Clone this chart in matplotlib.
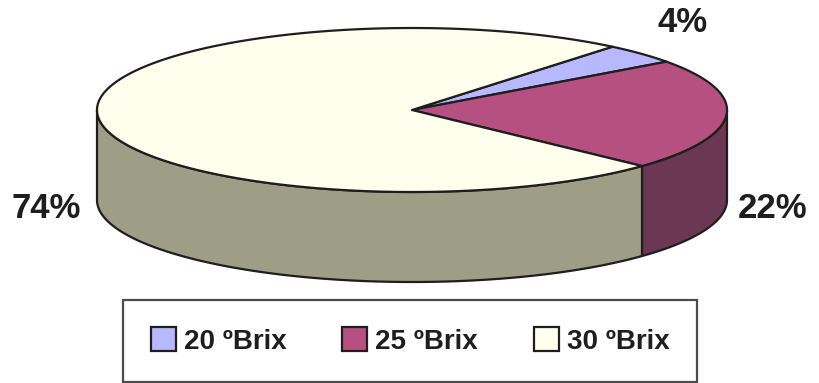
import matplotlib
matplotlib.use("Agg")
import matplotlib.pyplot as plt
import numpy as np
from matplotlib.patches import Polygon, Patch

labels = ["20 ºBrix", "25 ºBrix", "30 ºBrix"]
values = [4, 22, 74]
pct_labels = ["4%", "22%", "74%"]
top_colors = ["#b8b8ff", "#b55080", "#ffffee"]
side_colors = ["#6e6e9e", "#6b3752", "#9e9e86"]

# pie geometry in pixel coordinates (y grows downward)
cx, cy = 412, 110
rx, ry = 315, 82
depth = 90
start_deg = 50.5

plt.rcParams["font.family"] = ["Liberation Sans", "DejaVu Sans"]
fig = plt.figure(figsize=(8.19, 3.83), dpi=100)
ax = fig.add_axes([0, 0, 1, 1])
ax.set_xlim(0, 819)
ax.set_ylim(383, 0)
ax.axis("off")


def rim(t0, t1, n=200):
    t = np.radians(np.linspace(t0, t1, n))
    return cx + rx * np.cos(t), cy - ry * np.sin(t)


edge = dict(edgecolor="#1e1e1e", linewidth=1.6, joinstyle="round")

# slice angles, clockwise from start
bounds = [start_deg]
for v in values:
    bounds.append(bounds[-1] - 360 * v / sum(values))

# front side walls (only the part with sin(t) < 0 is visible)
for i, v in enumerate(values):
    a0, a1 = bounds[i], bounds[i + 1]
    lo, hi = min(a0, a1), max(a0, a1)
    for shift in (0, 360, -360):
        s0, s1 = max(lo + shift, -180), min(hi + shift, 0)
        if s1 > s0:
            x, y = rim(s1, s0)
            xs = np.concatenate([x, x[::-1]])
            ys = np.concatenate([y, y[::-1] + depth])
            ax.add_patch(Polygon(np.column_stack([xs, ys]),
                                 facecolor=side_colors[i], **edge))

# top faces
for i, v in enumerate(values):
    x, y = rim(bounds[i], bounds[i + 1])
    xs = np.concatenate([[cx], x])
    ys = np.concatenate([[cy], y])
    ax.add_patch(Polygon(np.column_stack([xs, ys]),
                         facecolor=top_colors[i], **edge))

# percentage labels
label_pos = [(683, 23), (773, 208), (46, 208)]
for txt, (lx, ly) in zip(pct_labels, label_pos):
    ax.text(lx, ly, txt, ha="center", va="center", fontsize=25,
            fontweight="bold", color="#1e1e1e")

handles = [Patch(facecolor=c, edgecolor="#1e1e1e", linewidth=1.6)
           for c in top_colors]
leg = ax.legend(handles, labels, ncol=3, loc="center",
                bbox_to_anchor=(410 / 819, 1 - 341 / 383),
                frameon=True, fancybox=False, edgecolor="#1e1e1e",
                prop=dict(size=20, weight="bold"),
                handlelength=0.9, handleheight=0.9, handletextpad=0.3,
                columnspacing=2.0, borderpad=1.0, borderaxespad=0)
leg.get_frame().set_linewidth(1.6)
for t in leg.get_texts():
    t.set_color("#1e1e1e")

fig.savefig("out.png", dpi=100)
